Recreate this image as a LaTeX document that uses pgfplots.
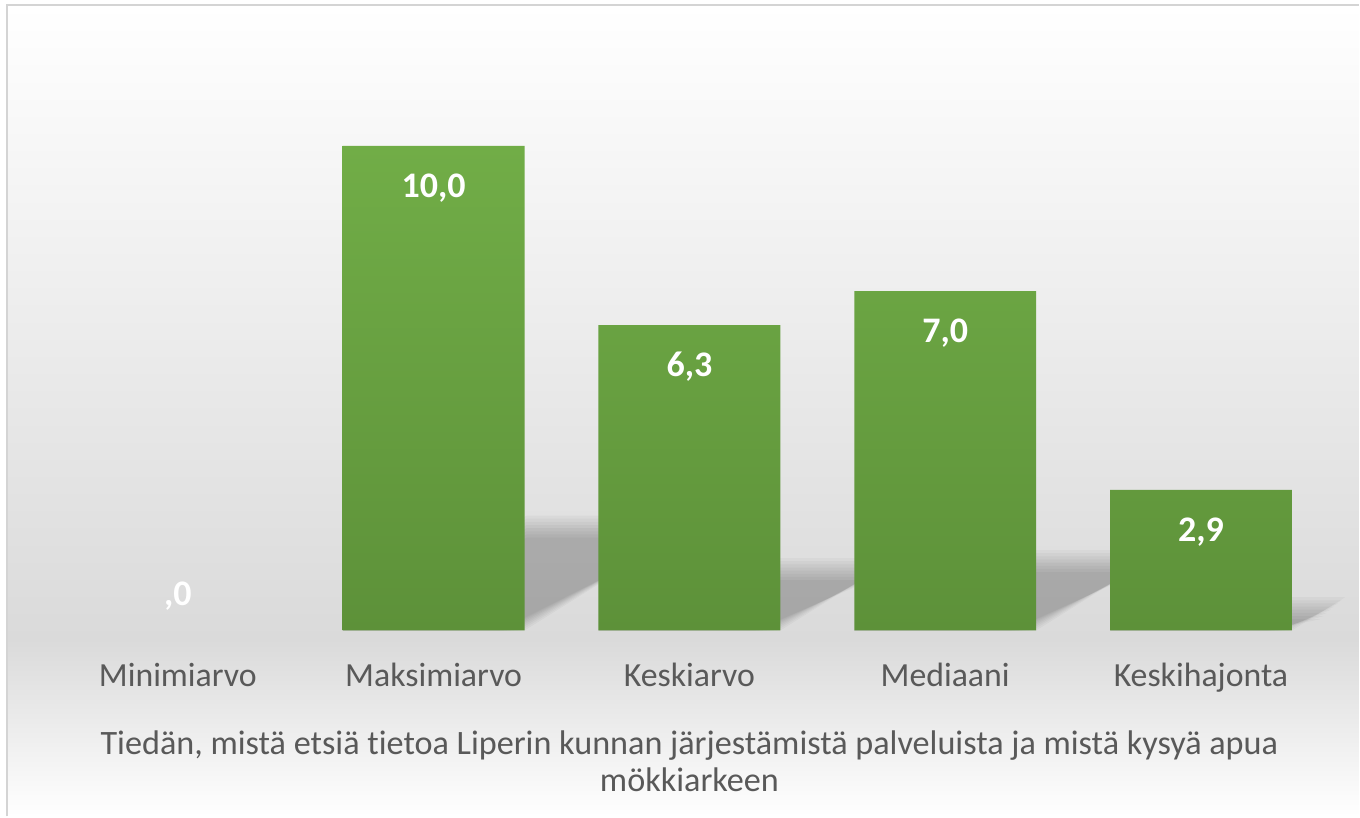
\documentclass[border=0pt]{standalone}
\usepackage{fontspec}
\setmainfont{Carlito}[Ligatures={NoCommon}]
\usepackage{pgfplots}
\pgfplotsset{compat=1.18}
\definecolor{bartop}{HTML}{71AD47}
\definecolor{barbot}{HTML}{5D9139}
\definecolor{bggray}{HTML}{DADADA}
\definecolor{txtgray}{HTML}{595959}
\definecolor{bordergray}{HTML}{D4D4D4}
% soft perspective shadow behind a bar: #1 = category index, #2 = bar value, #3 = layer
\newcommand\shlayer[3]{%
  \fill[black,opacity=0.031] (axis cs:{#1-0.3555},0) -- (axis cs:{#1+0.3555-#3*0.014},0)
    -- (axis cs:{#1+0.3555+0.0719*#2-#3*0.014},{0.237*#2-#3*0.065})
    -- (axis cs:{#1-0.3555+0.0719*#2},{0.237*#2-#3*0.065}) -- cycle;}
\newcommand\barshadow[2]{\shlayer{#1}{#2}{0}\shlayer{#1}{#2}{1}\shlayer{#1}{#2}{2}\shlayer{#1}{#2}{3}%
  \shlayer{#1}{#2}{4}\shlayer{#1}{#2}{5}\shlayer{#1}{#2}{6}\shlayer{#1}{#2}{7}}
\begin{document}
\begin{tikzpicture}[x=1pt,y=1pt]
\fill[white] (0,0) rectangle (680,408.5);
\shade[top color=white, bottom color=bggray] (3.5,88.5) rectangle (680,406);
\shade[top color=bggray, bottom color=white] (3.5,0) rectangle (680,88.5);
\draw[bordergray, line width=1.2pt] (3.5,0) -- (3.5,406) -- (680,406);
\begin{axis}[
  at={(25pt,93pt)}, anchor=south west,
  scale only axis, width=640pt, height=291pt,
  xmin=-0.5, xmax=4.5, ymin=0, ymax=12,
  axis line style={draw=none},
  ytick=\empty,
  xtick={0,1,2,3,4},
  xticklabels={Minimiarvo,Maksimiarvo,Keskiarvo,Mediaani,Keskihajonta},
  major tick length=0pt,
  xticklabel style={anchor=base, inner sep=0pt, yshift=-28pt,
    font=\fontsize{16.9}{20}\selectfont, text=txtgray},
  clip=false,
  ybar, bar width=91pt, bar shift=0pt,
  /pgf/number format/assume math mode=true,
]
\barshadow{1}{10.0}
\barshadow{2}{6.3}
\barshadow{3}{7.0}
\barshadow{4}{2.9}
\addplot[draw=none, top color=bartop, bottom color=barbot,
  nodes near coords={\pgfmathprintnumber[fixed,fixed zerofill,precision=1,use comma]{\pgfplotspointmeta}},
  every node near coord/.append style={anchor=center, yshift=-21pt, text=white,
    font=\bfseries\fontsize{18}{20}\selectfont}]
  coordinates {(1,10.0) (2,6.3) (3,7.0) (4,2.9)};
\addplot[draw=none, fill=none,
  nodes near coords={,0},
  every node near coord/.append style={anchor=center, yshift=17pt, text=white,
    font=\bfseries\fontsize{18}{20}\selectfont}]
  coordinates {(0,0)};
\end{axis}
\node[anchor=base, text=txtgray, font=\fontsize{17.1}{20}\selectfont, inner sep=0pt]
  at (345,31) {Tiedän, mistä etsiä tietoa Liperin kunnan järjestämistä palveluista ja mistä kysyä apua};
\node[anchor=base, text=txtgray, font=\fontsize{17.1}{20}\selectfont, inner sep=0pt]
  at (345,12.5) {mökkiarkeen};
\end{tikzpicture}
\end{document}
